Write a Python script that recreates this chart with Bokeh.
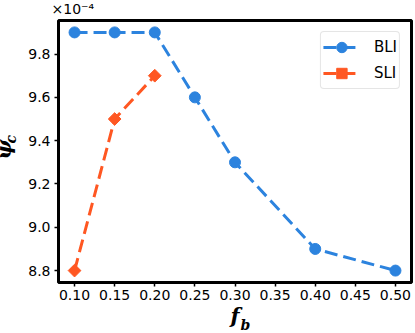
import math
from bokeh.plotting import figure
from bokeh.models import Range1d, FixedTicker, NumeralTickFormatter, Legend, LegendItem, Title
from bokeh.embed import file_html
from bokeh.resources import INLINE

# ---- data (psi_c values in units of 1e-4) ----
f_b_bli = [0.10, 0.15, 0.20, 0.25, 0.30, 0.40, 0.50]
psi_bli = [9.9, 9.9, 9.9, 9.6, 9.3, 8.9, 8.8]
f_b_sli = [0.10, 0.15, 0.20]
psi_sli = [8.8, 9.5, 9.7]
x_ticks = [0.10, 0.15, 0.20, 0.25, 0.30, 0.35, 0.40, 0.45, 0.50]
y_ticks = [8.8, 9.0, 9.2, 9.4, 9.6, 9.8]

BLUE = "#2C83DE"
ORANGE = "#FF5722"

p = figure(width=415, height=333, output_backend="svg", toolbar_location=None,
           x_range=Range1d(0.08, 0.52), y_range=Range1d(8.745, 9.955),
           min_border_left=58, min_border_right=4, min_border_top=20, min_border_bottom=51)
p.grid.visible = False
p.outline_line_color = "black"
p.outline_line_width = 3
p.background_fill_color = "white"
p.border_fill_color = "white"

for ax in (p.xaxis[0], p.yaxis[0]):
    ax.axis_line_color = None
    ax.major_tick_out = 4
    ax.major_tick_in = 0
    ax.major_tick_line_width = 1.5
    ax.major_tick_line_color = "black"
    ax.minor_tick_line_color = None
    ax.major_label_text_font = "DejaVu Sans"
    ax.major_label_text_font_size = "14px"
    ax.major_label_text_color = "black"
    ax.axis_label_text_font = "DejaVu Serif"
    ax.axis_label_text_font_style = "bold italic"
    ax.axis_label_text_color = "black"

p.xaxis[0].ticker = FixedTicker(ticks=x_ticks)
p.xaxis[0].formatter = NumeralTickFormatter(format="0.00")
p.xaxis[0].major_label_standoff = 3
p.xaxis[0].axis_label = "f"
p.xaxis[0].axis_label_text_font_size = "21px"
p.xaxis[0].axis_label_standoff = 0

p.yaxis[0].ticker = FixedTicker(ticks=y_ticks)
p.yaxis[0].formatter = NumeralTickFormatter(format="0.0")
p.yaxis[0].major_label_standoff = 4
# subscript of psi_c; leading no-break spaces lift it above the centre
p.yaxis[0].axis_label = "\u00a0" * 5 + "c"
p.yaxis[0].axis_label_text_font_size = "14px"
p.yaxis[0].axis_label_standoff = 6

l1 = p.line(f_b_bli, psi_bli, line_color=BLUE, line_width=3, line_dash="13 6")
m1 = p.scatter(f_b_bli, psi_bli, marker="circle", size=11, fill_color=BLUE, line_color=BLUE)
l2 = p.line(f_b_sli, psi_sli, line_color=ORANGE, line_width=3, line_dash="13 6")
m2 = p.scatter(f_b_sli, psi_sli, marker="square", angle=math.pi / 4, size=9,
               fill_color=ORANGE, line_color=ORANGE)

legend = Legend(items=[LegendItem(label="BLI", renderers=[l1, m1]),
                       LegendItem(label="SLI", renderers=[l2, m2])],
                location="top_right", margin=11, padding=2, spacing=0,
                glyph_width=37, glyph_height=26, label_standoff=14,
                label_text_font="DejaVu Sans", label_text_font_size="15px",
                label_text_color="black",
                border_line_color="#cccccc", border_line_width=1, border_radius=4,
                background_fill_color="white", background_fill_alpha=0.8)
p.add_layout(legend)

serif = dict(text_font="DejaVu Serif", text_font_style="bold italic", text_color="black")

# multiplier above the frame
p.add_layout(Title(text="×10⁻⁴", align="left", vertical_align="top", offset=-7, standoff=1.7,
                   text_font="DejaVu Sans", text_font_style="normal",
                   text_font_size="14px", text_color="black"), "above")

# y label symbol psi (outside the axis)
p.add_layout(Title(text="ψ", align="left", vertical_align="bottom", offset=123, standoff=-31.5,
                   text_font_size="21px", **serif), "left")

# x label subscript b
p.add_layout(Title(text="b", align="left", vertical_align="top", offset=182, standoff=-28,
                   text_font_size="14px", **serif), "below")

open("out.html", "w").write(file_html(p, INLINE))
